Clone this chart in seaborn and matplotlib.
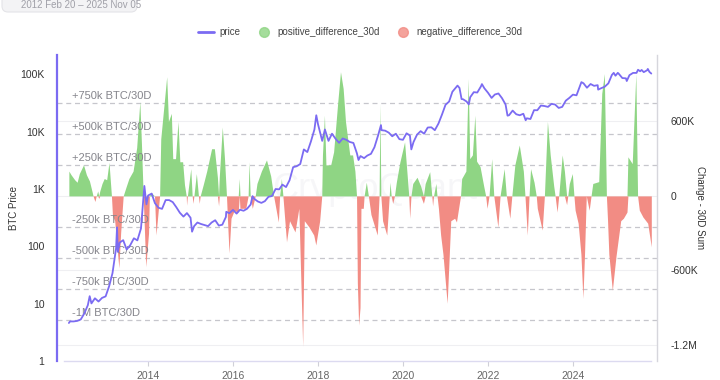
import matplotlib
matplotlib.use('Agg')
import matplotlib.pyplot as plt
import matplotlib.dates as mdates
from matplotlib.lines import Line2D
from matplotlib.patches import FancyBboxPatch
import seaborn as sns
import pandas as pd
import numpy as np

# BTC price (USD)
price_dates = [
    '2012-02-20', '2012-03-01', '2012-04-01', '2012-05-01', '2012-06-01', '2012-07-01', '2012-08-01', '2012-08-17',
    '2012-09-01', '2012-10-01', '2012-11-01', '2012-12-01',
    '2013-01-01', '2013-02-01', '2013-03-01', '2013-04-01', '2013-04-09', '2013-04-16', '2013-05-01', '2013-06-01',
    '2013-07-01', '2013-08-01', '2013-09-01', '2013-10-01', '2013-11-01', '2013-11-30', '2013-12-18',
    '2014-01-01', '2014-02-01', '2014-03-01', '2014-04-01', '2014-05-01', '2014-06-01', '2014-07-01', '2014-08-01',
    '2014-09-01', '2014-10-01', '2014-11-01', '2014-12-01',
    '2015-01-01', '2015-01-14', '2015-02-01', '2015-03-01', '2015-04-01', '2015-05-01', '2015-06-01', '2015-07-01',
    '2015-08-01', '2015-09-01', '2015-10-01', '2015-11-01', '2015-11-04', '2015-12-01',
    '2016-01-01', '2016-02-01', '2016-03-01', '2016-04-01', '2016-05-01', '2016-06-01', '2016-06-17', '2016-07-01',
    '2016-08-01', '2016-09-01', '2016-10-01', '2016-11-01', '2016-12-01',
    '2017-01-01', '2017-02-01', '2017-03-01', '2017-04-01', '2017-05-01', '2017-06-01', '2017-07-01', '2017-08-01',
    '2017-09-01', '2017-10-01', '2017-11-01', '2017-12-01', '2017-12-17',
    '2018-01-01', '2018-02-06', '2018-03-01', '2018-04-01', '2018-05-01', '2018-06-01', '2018-07-01', '2018-08-01',
    '2018-09-01', '2018-10-01', '2018-11-01', '2018-12-01', '2018-12-15',
    '2019-01-01', '2019-02-01', '2019-03-01', '2019-04-01', '2019-05-01', '2019-06-01', '2019-06-26', '2019-07-01',
    '2019-08-01', '2019-09-01', '2019-10-01', '2019-11-01', '2019-12-01',
    '2020-01-01', '2020-02-01', '2020-03-01', '2020-03-13', '2020-04-01', '2020-05-01', '2020-06-01', '2020-07-01',
    '2020-08-01', '2020-09-01', '2020-10-01', '2020-11-01', '2020-12-01',
    '2021-01-01', '2021-02-01', '2021-03-01', '2021-04-01', '2021-04-14', '2021-05-01', '2021-05-19', '2021-06-01',
    '2021-07-01', '2021-07-20', '2021-08-01', '2021-09-01', '2021-10-01', '2021-11-01', '2021-11-10', '2021-12-01',
    '2022-01-01', '2022-02-01', '2022-03-01', '2022-04-01', '2022-05-01', '2022-06-01', '2022-06-18', '2022-07-01',
    '2022-08-01', '2022-09-01', '2022-10-01', '2022-11-01', '2022-11-21', '2022-12-01',
    '2023-01-01', '2023-02-01', '2023-03-01', '2023-04-01', '2023-05-01', '2023-06-01', '2023-07-01', '2023-08-01',
    '2023-09-01', '2023-10-01', '2023-11-01', '2023-12-01',
    '2024-01-01', '2024-02-01', '2024-03-01', '2024-03-14', '2024-04-01', '2024-05-01', '2024-06-01', '2024-07-01',
    '2024-08-01', '2024-08-05', '2024-09-01', '2024-10-01', '2024-11-01', '2024-12-01', '2024-12-17',
    '2025-01-01', '2025-01-21', '2025-02-01', '2025-03-01', '2025-04-01', '2025-04-08', '2025-05-01', '2025-06-01',
    '2025-07-01', '2025-07-14', '2025-08-01', '2025-08-14', '2025-09-01', '2025-10-01', '2025-10-06', '2025-10-20',
    '2025-11-05',
]
price_values = [
    4.6, 4.9, 4.9, 5.0, 5.3, 6.7, 9.4, 13.5,
    10.1, 12.4, 10.9, 12.6,
    13.4, 20.4, 34, 93, 214, 80, 116, 128,
    88, 105, 138, 127, 205, 1130, 540,
    770, 830, 565, 470, 450, 640, 640, 590,
    480, 385, 330, 380,
    315, 180, 225, 260, 245, 235, 225, 260,
    285, 230, 238, 325, 400, 378,
    432, 372, 435, 417, 452, 536, 750, 676,
    606, 572, 613, 731, 753,
    998, 985, 1190, 1080, 1420, 2400, 2490, 2720,
    4900, 4400, 6750, 10900, 19300,
    13400, 6900, 10900, 6900, 9200, 7500, 6380, 7600,
    7200, 6600, 6350, 4200, 3200,
    3750, 3450, 3830, 4100, 5350, 8550, 13000, 10600,
    10400, 9600, 8300, 9200, 7400,
    7200, 9350, 8550, 4900, 6600, 8850, 10200, 9200,
    11800, 11900, 10600, 13800, 19700,
    29400, 33500, 49600, 59000, 63500, 57800, 37000, 36700,
    33500, 29800, 39800, 48800, 48100, 61300, 67500, 57000,
    47700, 38700, 44400, 46300, 38500, 29800, 19000, 19300,
    23300, 20100, 19300, 20500, 15800, 17100,
    16600, 23700, 23600, 28500, 28000, 27000, 30500, 29700,
    25900, 27000, 34700, 38700,
    44200, 43000, 62400, 73000, 69700, 58300, 67700, 62900,
    64600, 54000, 57300, 60800, 69500, 97300, 106000,
    94400, 106000, 100600, 86000, 85000, 76300, 96500, 105700,
    105700, 120000, 113000, 119000, 109000, 118000, 124000, 110000,
    103000,
]

# 30-day summed change (thousand BTC)
change_dates = [
    '2012-02-20', '2012-03-10', '2012-04-10', '2012-05-01', '2012-05-20', '2012-06-25', '2012-07-20', '2012-08-15',
    '2012-09-05', '2012-09-15', '2012-10-01', '2012-10-12', '2012-10-25', '2012-11-03', '2012-11-12', '2012-12-01',
    '2012-12-20', '2013-01-10', '2013-01-30', '2013-02-20', '2013-03-01', '2013-03-20', '2013-04-25', '2013-05-10',
    '2013-06-01', '2013-06-25', '2013-07-20', '2013-08-25', '2013-09-25', '2013-10-22', '2013-11-05', '2013-11-20',
    '2013-12-12', '2014-01-05', '2014-01-12', '2014-01-25', '2014-02-25', '2014-03-10', '2014-04-10', '2014-04-20',
    '2014-06-10', '2014-06-25', '2014-07-20', '2014-08-01', '2014-08-25', '2014-09-15', '2014-10-01', '2014-10-25',
    '2014-11-10', '2014-11-25', '2014-11-28', '2014-12-05', '2015-01-03', '2015-01-15', '2015-01-22', '2015-01-30',
    '2015-02-20', '2015-03-10', '2015-03-17', '2015-03-25', '2015-04-20', '2015-05-20', '2015-07-01', '2015-07-25',
    '2015-08-20', '2015-08-30', '2015-09-05', '2015-10-01', '2015-10-20', '2015-11-06', '2015-11-15', '2015-11-28',
    '2015-12-15', '2016-01-10', '2016-02-15', '2016-02-24', '2016-03-01', '2016-04-20', '2016-05-10', '2016-05-18',
    '2016-05-28', '2016-06-15', '2016-07-10', '2016-07-25', '2016-09-01', '2016-10-15', '2016-11-20', '2016-12-15',
    '2017-01-25', '2017-02-05', '2017-02-20', '2017-03-05', '2017-04-05', '2017-05-01', '2017-06-17', '2017-07-20',
    '2017-08-22', '2017-09-05', '2017-10-15', '2017-11-25', '2017-12-13', '2018-01-15', '2018-02-02', '2018-02-08',
    '2018-02-25', '2018-03-10', '2018-04-20', '2018-05-15', '2018-06-20', '2018-07-13', '2018-08-05', '2018-08-25',
    '2018-10-01', '2018-10-25', '2018-11-14', '2018-11-28', '2018-12-05', '2018-12-16', '2018-12-28', '2019-01-05',
    '2019-01-25', '2019-02-01', '2019-02-20', '2019-03-10', '2019-04-01', '2019-05-25', '2019-06-10', '2019-06-17',
    '2019-06-25', '2019-07-10', '2019-08-15', '2019-09-05', '2019-09-12', '2019-09-22', '2019-10-05', '2019-10-20',
    '2019-11-05', '2019-12-05', '2020-01-15', '2020-02-20', '2020-02-28', '2020-03-10', '2020-03-25', '2020-05-01',
    '2020-06-01', '2020-06-25', '2020-07-10', '2020-08-18', '2020-09-05', '2020-09-12', '2020-09-20', '2020-10-10',
    '2020-10-20', '2020-11-01', '2020-11-20', '2020-12-10', '2021-01-15', '2021-02-15', '2021-03-20', '2021-04-05',
    '2021-05-10', '2021-05-20', '2021-06-25', '2021-07-15', '2021-07-28', '2021-08-20', '2021-09-10', '2021-09-25',
    '2021-10-25', '2021-11-25', '2021-12-12', '2021-12-24', '2022-01-10', '2022-02-02', '2022-02-20', '2022-03-27',
    '2022-04-15', '2022-05-20', '2022-06-08', '2022-07-08', '2022-07-25', '2022-08-20', '2022-09-27', '2022-11-01',
    '2022-11-15', '2022-12-05', '2022-12-20', '2023-01-02', '2023-02-01', '2023-02-20', '2023-03-01', '2023-04-12',
    '2023-05-01', '2023-05-27', '2023-06-20', '2023-07-20', '2023-08-01', '2023-08-18', '2023-09-01', '2023-10-01',
    '2023-10-20', '2023-11-08', '2023-11-18', '2023-12-01', '2023-12-27', '2024-01-10', '2024-01-20', '2024-02-15',
    '2024-03-10', '2024-03-27', '2024-04-10', '2024-04-25', '2024-05-20', '2024-06-05', '2024-06-20', '2024-08-10',
    '2024-09-05', '2024-09-27', '2024-10-15', '2024-10-25', '2024-11-05', '2024-12-05', '2025-01-05', '2025-02-15',
    '2025-03-10', '2025-04-10', '2025-04-18', '2025-05-25', '2025-06-25', '2025-07-10', '2025-07-25', '2025-08-25',
    '2025-10-05', '2025-11-05',
]
change_values = [
    200, 170, 130, 110, 180, 250, 170, 120,
    40, 0, -45, 0, 40, -20, 40, 100,
    140, 130, 270, 0, -160, -200, -580, -300,
    0, 70, 140, 200, 390, 760, 420, 0,
    -570, -300, 0, 30, 0, -315, 0, 460,
    960, 600, 665, 300, 300, 600, 275, 275,
    90, 0, -75, 0, 220, 0, -60, 0,
    180, 0, -60, 0, 90, 200, 380, 380,
    150, -80, 150, 555, 300, 0, -200, -460,
    -180, -120, -130, 140, -100, -100, 0, 275,
    0, -100, 0, 100, 200, 290, 160, 0,
    -210, 0, 140, 0, -370, -200, -290, -100,
    -1210, -200, -250, -315, -395, -200, 0, 330,
    650, 250, 250, 355, 760, 1000, 865, 600,
    330, 330, 200, 0, -700, -1040, -900, -100,
    -100, 0, 110, 0, -150, -315, 0, 745,
    0, -200, -315, 0, 110, 0, -60, 0,
    110, 270, 435, 0, -180, 0, 100, 150,
    80, -60, 100, 195, 0, -80, 0, 100,
    0, -100, -315, -470, -865, -200, -180, -210,
    0, 140, 200, 945, 300, 330, 650, 280,
    235, 80, 0, -100, 0, 300, 0, -250,
    0, 220, 0, -180, 0, 250, 410, 200,
    0, -315, 0, 220, 110, 0, -100, -275,
    0, 600, 330, 80, 0, -130, 0, 330,
    200, -70, 0, 100, 180, 0, -115, -220,
    -470, -825, -470, 0, -115, 0, 100, 115,
    825, 985, 0, -200, -470, -760, -490, -200,
    -180, -130, 315, 260, 985, 0, -115, -170,
    -220, -410,
]

ref_levels = [750, 500, 250, -250, -500, -750, -1000]
ref_labels = ['+750k BTC/30D', '+500k BTC/30D', '+250k BTC/30D', '-250k BTC/30D',
              '-500k BTC/30D', '-750k BTC/30D', '-1M BTC/30D']
year_ticks = [2014, 2016, 2018, 2020, 2022, 2024]

price_color = '#7b6bf2'
pos_color = '#8fd584'
neg_color = '#f28c84'

sns.set_theme(style='white')
plt.rcParams['font.family'] = ['Liberation Sans', 'DejaVu Sans']

price_dt = pd.to_datetime(price_dates)
change_dt = pd.to_datetime(change_dates)
chg = np.array(change_values, dtype=float)
pos = np.clip(chg, 0, None)
neg = np.clip(chg, None, 0)

fig = plt.figure(figsize=(7.2, 3.8), dpi=100)
ax = fig.add_axes([57 / 720, 19 / 380, 600 / 720, 306 / 380])
axp = ax.twinx()
ax.yaxis.tick_right()
ax.yaxis.set_label_position('right')
axp.yaxis.tick_left()
axp.yaxis.set_label_position('left')

# bars: 30 day change
ax.fill_between(change_dt, 0, pos, color=pos_color, lw=0, zorder=2)
ax.fill_between(change_dt, 0, neg, color=neg_color, lw=0, zorder=2)
ax.set_ylim(-1330, 1135)
ax.set_yticks([600, 0, -600, -1200])
ax.set_yticklabels(['600K', '0', '-600K', '-1.2M'])
ax.grid(axis='y', color='#efeff2', lw=0.8)
ax.grid(axis='x', visible=False)

for lvl, lab in zip(ref_levels, ref_labels):
    ax.axhline(lvl, ls=(0, (4, 3)), color='#c6c6cc', lw=0.9, zorder=1)
    ax.annotate(lab, xy=(0.025, lvl), xycoords=('axes fraction', 'data'),
                xytext=(0, 1.5), textcoords='offset points', va='bottom', ha='left',
                fontsize=8, color='#85858c', zorder=3)

ax.text(0.53, 0.56, 'CryptoQuant', transform=ax.transAxes, fontsize=26,
        color='#8a8aa0', alpha=0.07, ha='center', va='center', zorder=0)

# price line
sns.lineplot(x=price_dt, y=price_values, ax=axp, color=price_color, lw=1.3)
axp.set_yscale('log')
axp.set_ylim(1, 2.17e5)
axp.set_yticks([1, 10, 100, 1e3, 1e4, 1e5])
axp.set_yticklabels(['1', '10', '100', '1K', '10K', '100K'])
axp.yaxis.set_minor_locator(matplotlib.ticker.NullLocator())
axp.grid(False)

ax.set_xlim(pd.Timestamp('2011-11-10'), pd.Timestamp('2025-12-24'))
ax.set_xticks([pd.Timestamp(f'{y}-01-01') for y in year_ticks])
ax.xaxis.set_major_formatter(mdates.DateFormatter('%Y'))

ax.tick_params(axis='y', length=0, pad=10, labelsize=7.5, labelcolor='#333333')
ax.tick_params(axis='x', length=3.5, width=0.8, color='#d0d0d8', pad=4, labelsize=7.5, labelcolor='#666666',
               bottom=True)
axp.tick_params(axis='y', length=0, pad=9, labelsize=7.5, labelcolor='#333333')

for s in ['top', 'left']:
    ax.spines[s].set_visible(False)
ax.spines['right'].set_color('#d6d6dc')
ax.spines['right'].set_linewidth(1.0)
ax.spines['bottom'].set_color('#dcdaf0')
ax.spines['bottom'].set_linewidth(1.0)
ax.spines['bottom'].set_bounds(mdates.date2num(pd.Timestamp('2012-01-08')),
                               mdates.date2num(pd.Timestamp('2025-11-03')))
for s in ['top', 'right', 'bottom']:
    axp.spines[s].set_visible(False)
axp.spines['left'].set_color(price_color)
axp.spines['left'].set_linewidth(1.6)

axp.set_ylabel('BTC Price', fontsize=7, color='#333333')
axp.yaxis.set_label_coords(-0.064, 0.5)
ax.set_ylabel('Change - 30D Sum', fontsize=7, color='#333333', rotation=270, va='center')
ax.yaxis.set_label_coords(1.072, 0.5)
ax.set_xlabel('')
axp.set_xlabel('')

handles = [
    Line2D([], [], color=price_color, lw=2),
    Line2D([], [], ls='', marker='o', markersize=7, color=pos_color, alpha=0.8),
    Line2D([], [], ls='', marker='o', markersize=7, color=neg_color, alpha=0.8),
]
fig.legend(handles, ['price', 'positive_difference_30d', 'negative_difference_30d'],
           loc='center', bbox_to_anchor=(0.5, 1 - 32 / 380), ncol=3, frameon=False,
           fontsize=7, handlelength=1.7, columnspacing=1.6, handletextpad=0.5, labelcolor='#444444')

# date range picker at the top edge
fig.patches.append(FancyBboxPatch((0.02, 3.68), 1.35, 0.3, boxstyle='round,pad=0,rounding_size=0.06',
                                  transform=fig.dpi_scale_trans, facecolor='#f3f3f5', edgecolor='#e4e4e8',
                                  lw=0.8, figure=fig))
fig.text(21 / 720, 1 - 5.5 / 380, '2012 Feb 20 – 2025 Nov 05', fontsize=7, color='#a0a0a8', va='center')

fig.savefig('out.png', dpi=100)
